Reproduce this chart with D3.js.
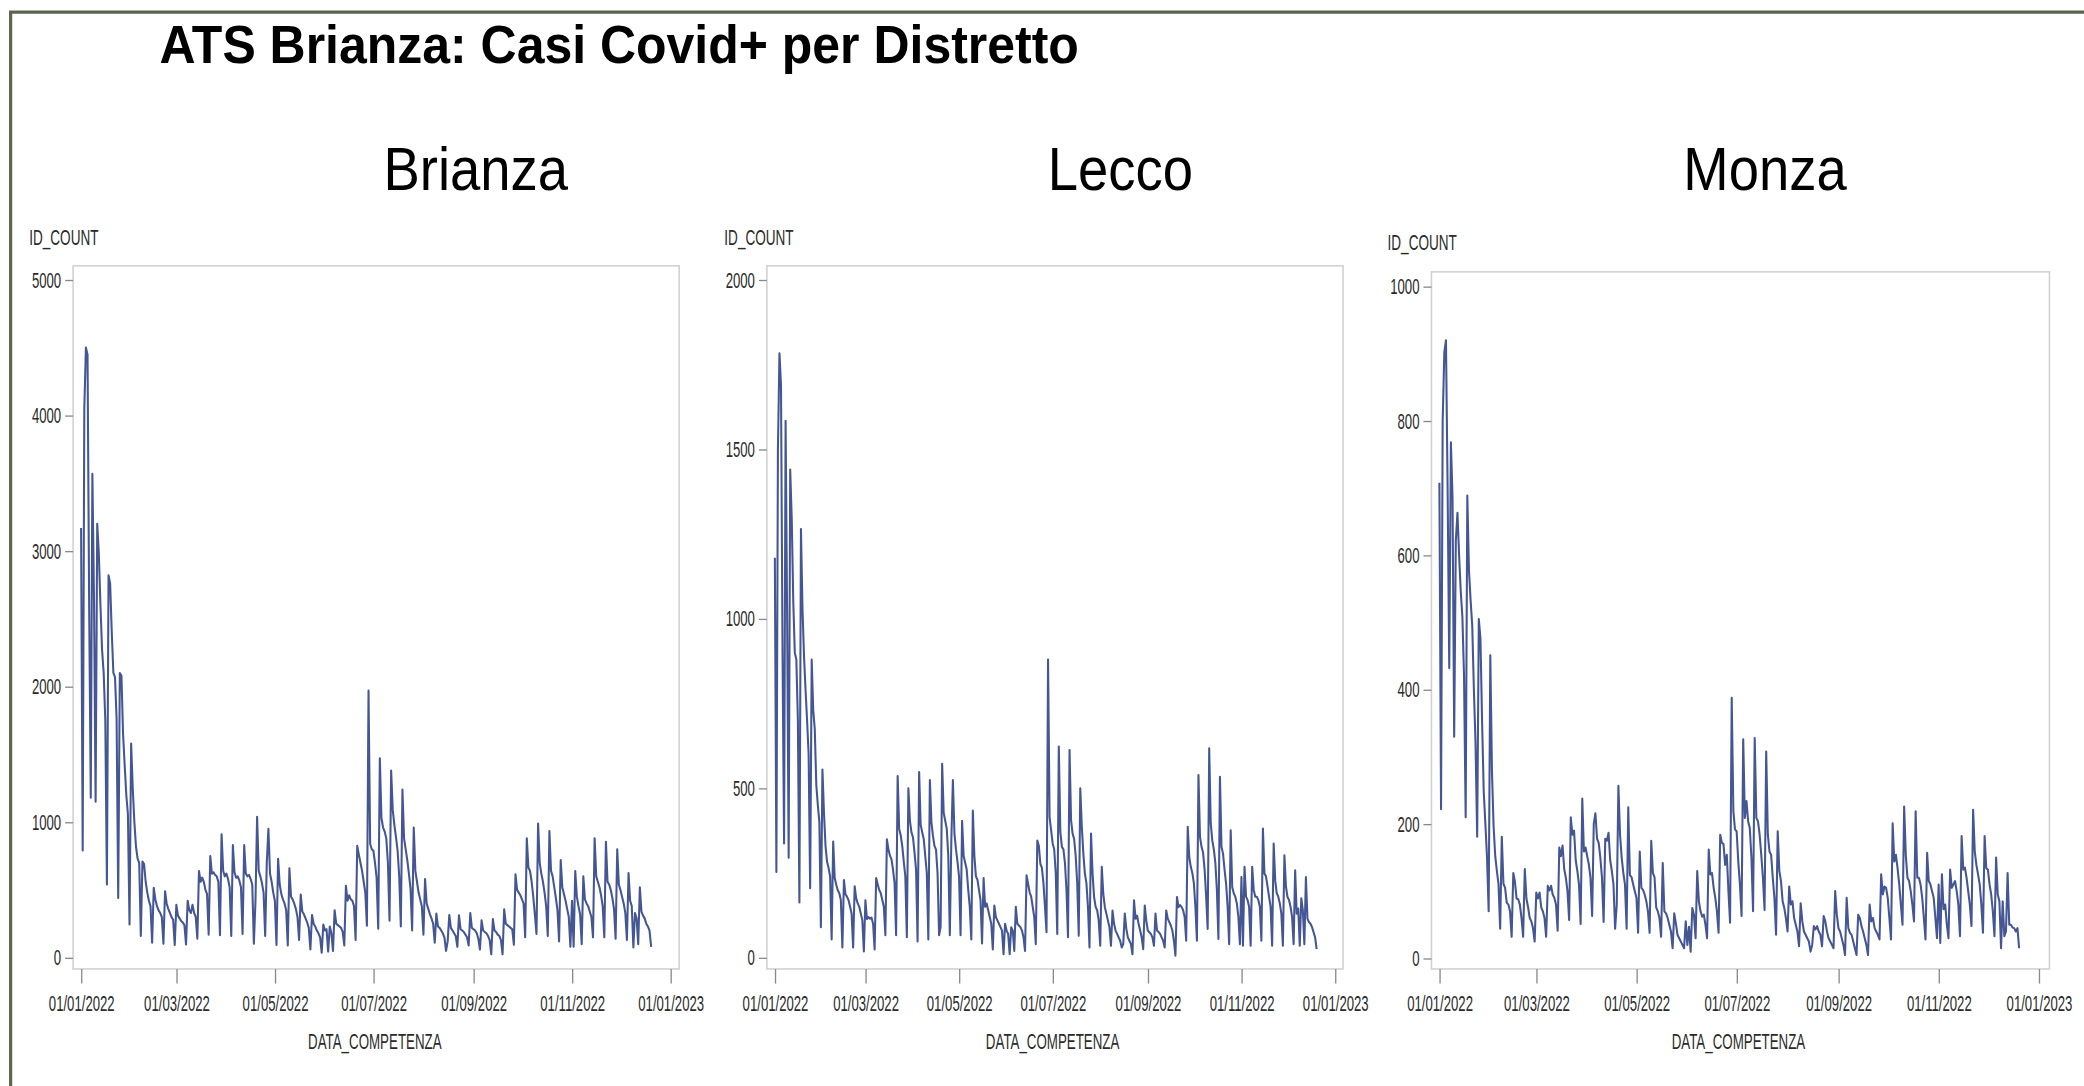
<!DOCTYPE html>
<html>
<head>
<meta charset="utf-8">
<script src="https://cdn.jsdelivr.net/npm/d3@7"></script>
<style>
  html, body { margin: 0; padding: 0; background: #fff; overflow: hidden; }
  svg { display: block; font-family: "Liberation Sans", Arial, sans-serif; }
</style>
</head>
<body>
<svg id="chart" width="2084" height="1086" viewBox="0 0 1568 817"></svg>
<script>
// Casi Covid+ giornalieri per distretto, 01/01/2022 -> 20/12/2022
const districts = ["Brianza", "Lecco", "Monza"];
const firstDay = "01/01/2022";

const brianzaCounts = [
  3170, 790,
  4050, 4500, 4450, 2600, 1180, 3570, 2650,
  1150, 3200, 2980, 2600, 2270, 2100, 1750,
  540, 2820, 2760, 2400, 2100, 2070, 1760,
  440, 2100, 2080, 1650, 1420, 1200, 1060,
  245, 1580, 1250, 1000, 820, 730, 700,
  160, 710, 690, 560, 480, 420, 380,
  110, 515, 430, 380, 350, 330, 300,
  103, 490, 400, 360, 330, 300, 280,
  93, 390, 310, 290, 270, 260, 240,
  98, 420, 350, 330, 390, 330, 300,
  140, 640, 560, 590, 560, 500, 470,
  170, 750, 620, 630, 610, 600, 560,
  165, 910, 640, 600, 620, 580, 520,
  160, 830, 630, 590, 600, 570, 520,
  175, 830, 620, 600, 610, 580, 540,
  103, 420, 1040, 640, 600, 550, 480,
  160, 700, 950, 620, 560, 480, 420,
  93, 730, 540, 470, 430, 400, 350,
  90, 660, 450, 430, 400, 360, 300,
  130, 465, 340, 320, 290, 260, 220,
  60, 315, 250, 230, 200, 180, 150,
  37, 245, 200, 210, 45, 230, 180,
  50, 350, 250, 240, 230, 220, 190,
  90, 530, 420, 460, 430, 420, 380,
  130, 825, 760, 700, 640, 560, 480,
  235, 1970, 840, 800, 790, 700, 590,
  214, 1470, 1030, 960, 930, 880, 700,
  273, 1380, 1090, 980, 890, 790, 600,
  230, 1240, 880, 800, 720, 620, 510,
  200, 960, 640, 560, 480, 430, 380,
  170, 580, 400, 360, 320, 290, 250,
  110, 325, 230, 220, 200, 180, 150,
  50, 120, 315, 220, 200, 180, 160,
  80, 312, 210, 200, 190, 170, 150,
  90, 330, 220, 210, 200, 180, 140,
  60, 275, 200, 190, 180, 160, 130,
  25, 285, 200, 190, 170, 160, 130,
  25, 357, 250, 240, 230, 220, 210,
  95, 615, 500, 480, 460, 430, 400,
  150, 880, 665, 640, 560, 450, 320,
  175, 990, 700, 620, 560, 480, 380,
  160, 935, 640, 600, 520, 440, 350,
  120, 720, 520, 470, 420, 360, 300,
  80, 420, 80, 640, 450, 380, 320,
  100, 600, 430, 400, 380, 340, 300,
  150, 880, 600, 560, 520, 460, 380,
  150, 855, 560, 540, 500, 440, 360,
  140, 800, 540, 500, 450, 400, 330,
  130, 625, 420, 380, 75, 330, 290,
  100, 520, 340, 310, 290, 250, 230,
  200, 80
];

const leccoCounts = [
  1180, 253,
  1500, 1783, 1690, 900, 337, 1584, 1000,
  295, 1440, 1295, 1050, 900, 880, 700,
  163, 1265, 1030, 890, 790, 700, 600,
  205, 880, 730, 675, 510, 450, 400,
  90, 555, 428, 330, 283, 265, 240,
  54, 343, 235, 215, 199, 190, 170,
  30, 229, 187, 180, 170, 150, 130,
  30, 211, 175, 160, 150, 130, 110,
  18, 169, 114, 120, 115, 118, 100,
  24, 235, 217, 200, 190, 170, 150,
  66, 349, 319, 301, 290, 260, 220,
  66, 536, 380, 361, 330, 283, 240,
  60, 500, 404, 370, 355, 310, 260,
  48, 548, 392, 370, 350, 300, 250,
  54, 524, 400, 360, 330, 319, 250,
  66, 90, 572, 428, 404, 380, 300,
  66, 350, 524, 367, 320, 283, 240,
  66, 404, 300, 280, 260, 200, 150,
  54, 434, 300, 240, 230, 200, 170,
  42, 235, 150, 160, 140, 120, 100,
  24, 154, 120, 110, 100, 90, 80,
  10, 100, 80, 70, 10, 90, 80,
  20, 150, 100, 95, 90, 80, 60,
  20, 243, 218, 193, 180, 150, 120,
  40, 346, 330, 277, 265, 220, 150,
  75, 880, 415, 376, 337, 320, 250,
  70, 623, 371, 327, 320, 280, 200,
  60, 613, 405, 366, 350, 300, 220,
  65, 500, 386, 307, 248, 220, 150,
  30, 366, 248, 179, 150, 140, 110,
  35, 268, 188, 149, 130, 110, 90,
  35, 139, 100, 80, 70, 60, 50,
  30, 40, 130, 85, 60, 50, 40,
  10, 169, 115, 124, 100, 80, 60,
  25, 154, 110, 80, 75, 70, 60,
  35, 130, 80, 76, 70, 60, 50,
  30, 139, 115, 105, 95, 80, 50,
  6, 179, 149, 155, 150, 140, 120,
  50, 386, 297, 268, 250, 220, 150,
  50, 539, 356, 327, 310, 260, 180,
  85, 618, 396, 346, 320, 280, 200,
  55, 534, 327, 307, 260, 218, 150,
  40, 376, 208, 190, 180, 160, 120,
  40, 238, 35, 268, 180, 170, 150,
  35, 268, 200, 180, 180, 170, 150,
  50, 381, 248, 240, 210, 180, 150,
  35, 337, 228, 190, 180, 160, 130,
  35, 302, 210, 179, 170, 150, 120,
  40, 258, 130, 145, 35, 175, 140,
  40, 238, 115, 105, 100, 90, 75,
  60, 25
];

const monzaCounts = [
  708, 222,
  800, 902, 920, 700, 432, 768, 686,
  330, 622, 663, 600, 546, 508, 420,
  210, 689, 578, 533, 495, 400, 320,
  181, 505, 476, 352, 248, 200, 150,
  70, 451, 279, 197, 152, 130, 110,
  44, 181, 111, 105, 83, 80, 70,
  32, 127, 114, 89, 88, 80, 60,
  32, 133, 89, 76, 60, 55, 45,
  25, 98, 89, 98, 76, 70, 60,
  32, 108, 101, 108, 95, 90, 80,
  41, 165, 152, 168, 133, 120, 100,
  57, 210, 184, 190, 146, 130, 110,
  51, 238, 159, 165, 152, 140, 120,
  63, 200, 216, 178, 172, 150, 120,
  54, 178, 175, 187, 146, 130, 110,
  44, 80, 257, 184, 150, 127, 110,
  44, 225, 124, 121, 110, 100, 90,
  38, 159, 105, 102, 95, 85, 70,
  38, 175, 127, 121, 76, 70, 60,
  32, 142, 70, 67, 60, 50, 40,
  15, 67, 52, 35, 30, 25, 20,
  15, 55, 20, 47, 10, 75, 65,
  30, 130, 85, 70, 62, 65, 50,
  30, 162, 125, 127, 105, 90, 70,
  38, 184, 172, 170, 139, 154, 100,
  53, 388, 219, 192, 189, 144, 110,
  63, 326, 209, 234, 204, 194, 150,
  70, 328, 209, 204, 184, 154, 120,
  72, 308, 184, 159, 154, 120, 90,
  35, 189, 130, 115, 85, 75, 60,
  40, 107, 80, 85, 60, 50, 40,
  18, 82, 55, 40, 35, 30, 25,
  10, 20, 48, 43, 48, 40, 35,
  18, 63, 55, 40, 30, 25, 20,
  15, 100, 65, 45, 40, 30, 20,
  5, 90, 45, 38, 35, 25, 15,
  5, 65, 60, 48, 40, 30, 20,
  5, 80, 55, 60, 45, 40, 35,
  28, 125, 95, 107, 105, 90, 60,
  28, 201, 144, 154, 134, 110, 80,
  50, 226, 154, 120, 115, 100, 80,
  55, 219, 120, 120, 110, 90, 60,
  28, 157, 115, 110, 100, 90, 60,
  30, 110, 23, 125, 73, 80, 50,
  30, 132, 105, 110, 115, 100, 80,
  33, 182, 132, 135, 120, 100, 80,
  48, 221, 159, 139, 125, 110, 80,
  38, 182, 134, 132, 110, 95, 70,
  33, 150, 95, 85, 15, 85, 33,
  40, 127, 50, 50, 46, 45, 40,
  45, 15
];

const brianzaTicks = [0, 1000, 2000, 3000, 4000, 5000];
const leccoTicks = [0, 500, 1000, 1500, 2000];
const monzaTicks = [0, 200, 400, 600, 800, 1000];
const dateTicks = ["01/01/2022", "01/03/2022", "01/05/2022", "01/07/2022", "01/09/2022", "01/11/2022", "01/01/2023"];

const chartTitle = "ATS Brianza: Casi Covid+ per Distretto";
const yTitle = "ID_COUNT";
const xTitle = "DATA_COMPETENZA";

// panel geometry (in the 1568x817 drawing space)
const panels = [
  { left: 55, right: 511, top: 200, bottom: 729, x0: 61, x1: 504.5, yZero: 720.5, yMax: 210.5, titleX: 358, idX: 22, idY: 184.5, xTitleX: 282 },
  { left: 577, right: 1010.5, top: 200, bottom: 729, x0: 583, x1: 1004.5, yZero: 720.5, yMax: 210.5, titleX: 843, idX: 545, idY: 184.5, xTitleX: 792 },
  { left: 1077, right: 1542, top: 204.5, bottom: 729, x0: 1083, x1: 1534, yZero: 721, yMax: 215.5, titleX: 1328, idX: 1044, idY: 188, xTitleX: 1308 }
];
const seriesValues = [brianzaCounts, leccoCounts, monzaCounts];
const seriesTicks = [brianzaTicks, leccoTicks, monzaTicks];

const lineColor = "#445694";
const smallK = 0.6;          // the original uses a condensed face for the small labels
const parseDay = d3.timeParse("%d/%m/%Y");
const fmtDay = d3.timeFormat("%d/%m/%Y");
const start = parseDay(firstDay);

const svg = d3.select("#chart");

// text squeezed horizontally around its anchor point
function label(parent, x, y, str, size, k, anchor) {
  return parent.append("text")
    .attr("transform", `translate(${x},${y}) scale(${k},1)`)
    .attr("text-anchor", anchor || "start")
    .attr("font-size", size)
    .text(str);
}

// outer frame
svg.append("path")
  .attr("d", "M8,830 V9 H1580")
  .attr("fill", "none")
  .attr("stroke", "#59654f")
  .attr("stroke-width", 2.4);

label(svg, 120, 47.5, chartTitle, 40, 0.94)
  .attr("font-weight", "bold")
  .attr("fill", "#000");

panels.forEach((p, k) => {
  const values = seriesValues[k];
  const ticks = seriesTicks[k];

  const x = d3.scaleTime()
    .domain([parseDay(dateTicks[0]), parseDay(dateTicks[dateTicks.length - 1])])
    .range([p.x0, p.x1]);
  const y = d3.scaleLinear()
    .domain([0, d3.max(ticks)])
    .range([p.yZero, p.yMax]);

  const g = svg.append("g");

  // panel title
  label(g, p.titleX, 143, districts[k], 45.5, 0.9, "middle").attr("fill", "#000");

  // wall frame
  g.append("rect")
    .attr("x", p.left)
    .attr("y", p.top)
    .attr("width", p.right - p.left)
    .attr("height", p.bottom - p.top)
    .attr("fill", "#fff")
    .attr("stroke", "#d2d2d2")
    .attr("stroke-width", 1.2);

  // y axis
  const yAxis = g.append("g")
    .attr("transform", `translate(${p.left},0)`)
    .call(d3.axisLeft(y).tickValues(ticks).tickSize(6).tickPadding(3).tickFormat(d3.format("d")));
  yAxis.select(".domain").remove();
  yAxis.selectAll(".tick line").attr("stroke", "#8a8a8a").attr("stroke-width", 1);
  yAxis.selectAll(".tick text")
    .attr("font-size", 16.5)
    .attr("font-family", "Liberation Sans, Arial, sans-serif")
    .attr("fill", "#2b2b2b")
    .attr("x", -9 / smallK)
    .attr("transform", `scale(${smallK},1)`);

  // x axis
  const xAxis = g.append("g")
    .attr("transform", `translate(0,${p.bottom})`)
    .call(d3.axisBottom(x).tickValues(dateTicks.map(parseDay)).tickSize(11).tickPadding(9).tickFormat(fmtDay));
  xAxis.select(".domain").remove();
  xAxis.selectAll(".tick line").attr("stroke", "#8a8a8a").attr("stroke-width", 1);
  xAxis.selectAll(".tick text")
    .attr("font-size", 16.5)
    .attr("font-family", "Liberation Sans, Arial, sans-serif")
    .attr("fill", "#2b2b2b")
    .attr("transform", `scale(${smallK},1)`);

  // axis titles
  label(g, p.idX, p.idY, yTitle, 17, smallK).attr("fill", "#2b2b2b");
  label(g, p.xTitleX, 789, xTitle, 17, 0.59, "middle").attr("fill", "#2b2b2b");

  // series
  const line = d3.line()
    .x((d, i) => x(d3.timeDay.offset(start, i)))
    .y(d => y(d));

  g.append("path")
    .datum(values)
    .attr("d", line)
    .attr("fill", "none")
    .attr("stroke", lineColor)
    .attr("stroke-width", 1.55)
    .attr("stroke-linejoin", "round");
});
</script>
</body>
</html>
